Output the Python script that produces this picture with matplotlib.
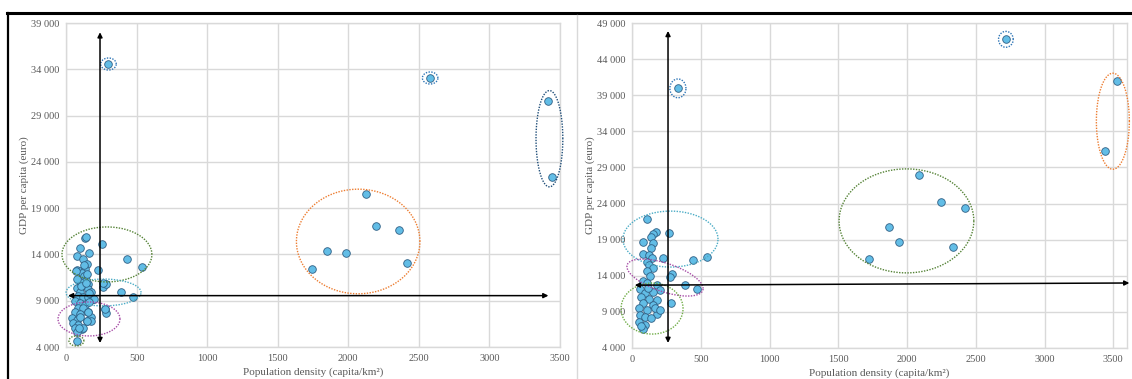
import numpy as np
import matplotlib.pyplot as plt
from matplotlib.lines import Line2D
from matplotlib.ticker import FuncFormatter

plt.rcParams['font.family'] = ['Liberation Serif', 'DejaVu Serif']

# ---- left panel data: population density (capita/km2) vs GDP per capita (euro)
left_density = [
    300, 2580, 3414, 3440, 2122, 2195, 2357, 1846, 1983, 1741, 2415,
    132, 139, 253, 99, 165, 75, 430, 123, 146, 541, 224, 75, 99, 134, 111,
    130, 139, 99, 158, 276, 264, 111, 75, 99, 158, 177, 387, 472, 87, 123,
    158, 194, 64, 99, 134, 87, 123, 276, 281, 64, 99, 158, 177, 40, 75, 99,
    146, 52, 87, 64, 111, 75, 75, 162, 196, 162, 277, 154, 175, 150, 123,
    92, 78, 103, 144, 149, 131, 73, 283, 265,
]
left_gdp = [
    34570, 33060, 30610, 22370, 20530, 17080, 16640, 14380, 14160, 12470, 13080,
    15744, 15850, 15100, 14664, 14124, 13872, 13548, 13476, 12972, 12684, 12324,
    12324, 12252, 12396, 11964, 11676, 11244, 11064, 10812, 10776, 10524, 10596,
    10344, 9984, 10236, 9984, 9912, 9372, 9516, 9444, 9372, 9228, 9012, 8724,
    8544, 8184, 8184, 8076, 7716, 7824, 7572, 7824, 7284, 7104, 6924, 7212,
    6852, 6564, 6384, 6024, 5916, 5664, 4656, 9870, 9160, 8900, 8110, 7790,
    6850, 6830, 6090, 6010, 11350, 10640, 10950, 11900, 12860, 12250, 10810,
    10900,
]

# ---- right panel data
right_density = [
    334, 2719, 3527, 3439, 2087, 2244, 2419, 1869, 1941, 2334, 1725,
    107, 272, 175, 155, 138, 82, 155, 136, 78, 126, 143, 228, 446, 543, 107,
    126, 155, 107, 294, 277, 131, 82, 386, 475, 107, 179, 204, 58, 95, 155,
    66, 126, 184, 82, 155, 281, 53, 107, 180, 58, 95, 136, 53, 95, 78, 63,
    167, 119, 204,
]
right_gdp = [
    39950, 46740, 40970, 31270, 27950, 24250, 23330, 20700, 18670, 17930, 16310,
    21807, 19868, 20007, 19730, 19406, 18621, 18575, 17790, 17005, 16867, 16405,
    16405, 16175, 16544, 15943, 15482, 15020, 14697, 14235, 13773, 13958, 13311,
    12712, 12158, 12942, 12712, 12019, 12111, 11557, 11788, 11004, 10727, 10634,
    10265, 9942, 10173, 9480, 9249, 8695, 8556, 8233, 8095, 7632, 7171, 6570,
    7032, 9480, 12250, 9249,
]

# cluster outlines: (centre x, centre y, width, height, colour, shear)
left_groups = [
    (301, 34570, 110, 1300, '#2e75b6', 0),
    (2580, 33060, 110, 1300, '#2e75b6', 0),
    (3425, 26500, 190, 10400, '#1f4e79', 0),
    (2070, 15400, 875, 11300, '#ed7d31', 0),
    (290, 14000, 637, 5940, '#548235', 0),
    (266, 9890, 531, 2900, '#4bacc6', 0),
    (163, 7030, 439, 3670, '#a64ca6', 0),
    (74, 4660, 106, 1080, '#548235', 0),
]
right_groups = [
    (334, 39950, 117, 2600, '#2e75b6', 0),
    (2719, 46740, 107, 2200, '#2e75b6', 0),
    (3497, 35400, 240, 13300, '#ed7d31', 0),
    (1996, 21600, 980, 14400, '#548235', 0),
    (280, 19080, 691, 7750, '#4bacc6', 0),
    (240, 13750, 554, 4120, '#a64ca6', 1520),
    (146, 9460, 451, 7060, '#70ad47', 0),
]

# quadrant arrows: ((x0, y0), (x1, y1))
left_arrows = [((241, 4430), (241, 38000)), ((14, 9550), (3418, 9550))]
right_arrows = [((262, 4700), (262, 47900)), ((20, 12700), (3617, 13000))]

grid_col = '#d9d9d9'
text_col = '#595959'


def outline(ax, cx, cy, w, h, col, shear):
    t = np.linspace(0, 2 * np.pi, 200)
    xs = cx + w / 2 * np.cos(t)
    ys = cy + h / 2 * np.sin(t) - shear * np.cos(t)
    ax.plot(xs, ys, ls=(0, (1, 1)), lw=1.0, color=col, clip_on=False, zorder=4)


def panel(ax, dens, gdp, groups, arrows, xmax, ymax):
    ax.set_xlim(0, xmax)
    ax.set_ylim(4000, ymax)
    ax.set_xticks(np.arange(0, 3501, 500))
    ax.set_yticks(np.arange(4000, ymax + 1, 5000))
    ax.yaxis.set_major_formatter(FuncFormatter(lambda v, p: f'{int(v):,}'.replace(',', ' ')))
    ax.grid(True, color=grid_col, lw=1.0)
    ax.set_axisbelow(True)
    for s in ax.spines.values():
        s.set_color(grid_col)
        s.set_linewidth(1.0)
    ax.tick_params(length=0, labelsize=7.5, labelcolor=text_col, pad=5)
    ax.set_xlabel('Population density (capita/km²)', fontsize=8, color=text_col, labelpad=3)
    ax.set_ylabel('GDP per capita (euro)', fontsize=8, color=text_col, labelpad=1)

    ax.scatter(dens, gdp, s=30, color='#62bde6', edgecolor='#2f5f84', lw=0.6, zorder=3)
    for g in groups:
        outline(ax, *g)
    for a, b in arrows:
        ax.annotate('', xy=b, xytext=a, annotation_clip=False, zorder=5,
                    arrowprops=dict(arrowstyle='<|-|>', color='black', lw=1.1,
                                    mutation_scale=7, shrinkA=0, shrinkB=0))


fig = plt.figure(figsize=(11.32, 3.79), dpi=100)
ax1 = fig.add_axes([0.0583, 0.0844, 0.4364, 0.8549])
ax2 = fig.add_axes([0.5583, 0.0818, 0.4373, 0.8575])

panel(ax1, left_density, left_gdp, left_groups, left_arrows, 3500, 39000)
panel(ax2, right_density, right_gdp, right_groups, right_arrows, 3600, 49000)

# page frame lines
fig.add_artist(Line2D([0.006, 1.0], [0.9657, 0.9657], color='black', lw=2.2))
fig.add_artist(Line2D([0.0071, 0.0071], [0.0, 0.9657], color='black', lw=1.6))
fig.add_artist(Line2D([0.5097, 0.5097], [0.0, 0.96], color=grid_col, lw=1.0))

fig.savefig('out.png', dpi=100)
